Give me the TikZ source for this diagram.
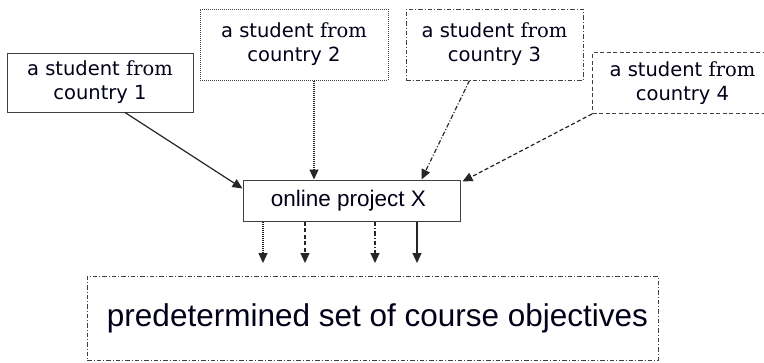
\documentclass[tikz,border=0pt]{standalone}
\usepackage{fontspec}
\usetikzlibrary{arrows.meta,calc}
\newfontfamily\dvsans{DejaVu Sans}
\newfontfamily\dvserif{DejaVu Serif}
\newfontfamily\lsans{Liberation Sans}
\begin{document}
\begin{tikzpicture}[x=1pt,y=-1pt,
  lc/.style={draw=black!75, line width=1pt},
  box/.style={lc, fill=white, inner sep=0pt, align=center, text=black!90!blue},
  arr/.style={draw=black!85, line width=1.2pt, -{Triangle[length=10pt,width=9pt]}},
  dotpat/.style={dash pattern=on 1pt off 1pt},
  dashpat/.style={dash pattern=on 4pt off 2.5pt},
  dashdotpat/.style={dash pattern=on 4.5pt off 2pt on 1pt off 2pt},
  stud/.style={font=\dvsans\fontsize{19.5}{24}\selectfont}
]
\useasboundingbox (0,0) rectangle (764,362);
\fill[white] (0,0) rectangle (764,362);

\node[box, stud, minimum width=186pt, minimum height=59pt] (b1) at (100,82.5) {a student {\dvserif from}\\country 1};
\node[box, stud, dotpat, minimum width=188pt, minimum height=71pt] (b2) at (294,44.5) {\raisebox{2pt}{a student {\dvserif from}}\\\raisebox{2pt}{country 2}};
\node[box, stud, dashdotpat, minimum width=177pt, minimum height=71pt] (b3) at (494.5,44.5) {\raisebox{2pt}{a student {\dvserif from}}\\\raisebox{2pt}{country 3}};
\node[box, stud, dashpat, minimum width=180pt, minimum height=61pt, anchor=north west] (b4) at (592,52) {a student {\dvserif from}\\country 4};

\node[box, font=\lsans\fontsize{22.5}{26}\selectfont, minimum width=217pt, minimum height=41pt] (c) at (351.5,200.5) {online project X\hspace*{6pt}};

\node[box, font=\lsans\fontsize{31.5}{36}\selectfont, dashdotpat, minimum width=571pt, minimum height=84pt] (o) at (372.5,318) {\hspace*{10pt}predetermined set of course objectives};

% incoming arrows
\draw[arr] ([xshift=25pt]b1.south) -- ([yshift=12pt]c.west);
\draw[arr, dotpat] ([xshift=20pt]b2.south) -- ([xshift=-37.5pt]c.north);
\draw[arr, dashdotpat] ([xshift=-25pt]b3.south) -- ([xshift=70pt]c.north);
\draw[arr, dashpat] (b4.south west) -- ([xshift=2pt,yshift=-2pt]c.north east);

% outgoing arrows
\coordinate (e1) at (263,263);
\coordinate (e2) at (305,263);
\coordinate (e3) at (375,263);
\coordinate (e4) at (417,263);
\draw[arr, dotpat] (c.south -| e1) -- (e1);
\draw[arr, dashpat] (c.south -| e2) -- (e2);
\draw[arr, dashdotpat] (c.south -| e3) -- (e3);
\draw[arr] (c.south -| e4) -- (e4);
\end{tikzpicture}
\end{document}
